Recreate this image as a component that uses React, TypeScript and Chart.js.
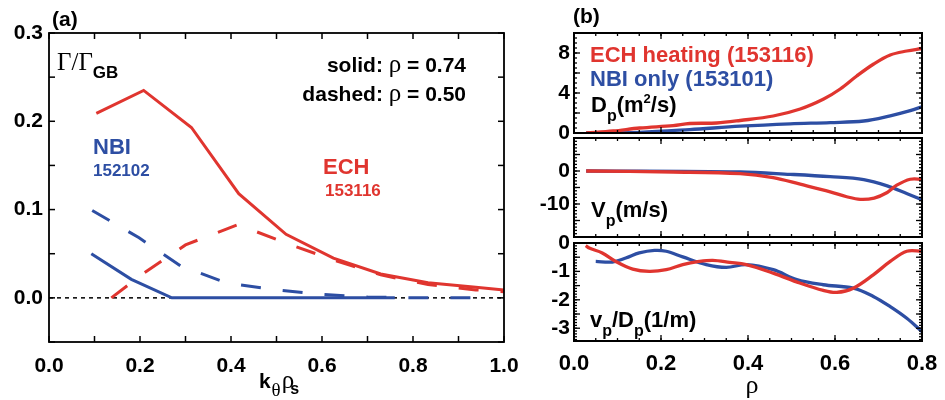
import React, { useEffect, useRef } from "react";
import { Chart, registerables } from "chart.js";
Chart.register(...registerables);

const RED = "#e0352f";
const BLUE = "#2d4ea3";
const SANS = '"Liberation Sans", Arial, sans-serif';
const SERIF = '"Liberation Serif", "Times New Roman", serif';

// ---------- Panel (a): Γ/Γ_GB vs kθρs ----------
const kRedSolid = [0.104, 0.208, 0.313, 0.417, 0.521, 0.625, 0.729, 0.833, 0.938, 1.0];
const gRedSolid = [0.209, 0.235, 0.193, 0.118, 0.072, 0.045, 0.027, 0.017, 0.012, 0.009];
const kRedDash = [0.137, 0.208, 0.3, 0.415, 0.521, 0.625, 0.729, 0.833, 0.938, 1.0];
const gRedDash = [0.0, 0.028, 0.06, 0.083, 0.062, 0.043, 0.026, 0.015, 0.009, 0.007];
const kBlueSolid = [0.093, 0.181, 0.27, 0.76];
const gBlueSolid = [0.05, 0.021, 0.0, 0.0];
const kBlueDash = [0.095, 0.198, 0.29, 0.39, 0.5, 0.6, 0.7, 0.8, 0.95];
const gBlueDash = [0.099, 0.068, 0.036, 0.017, 0.009, 0.004, 0.001, 0.0, 0.0];
const kZero = [0, 1];
const gZero = [0, 0];
const aXTicks = [0, 0.2, 0.4, 0.6, 0.8, 1.0];
const aYTicks = [0, 0.1, 0.2, 0.3];

// ---------- Panel (b): profiles vs ρ ----------
const rhoDpRed = [0.028, 0.09, 0.151, 0.228, 0.266, 0.328, 0.382, 0.458, 0.52, 0.574, 0.612, 0.65, 0.689, 0.727, 0.765, 0.8];
const dpRed = [0, 0.2, 0.5, 0.74, 0.95, 1.0, 1.25, 1.7, 2.4, 3.4, 4.4, 5.7, 6.9, 7.8, 8.2, 8.45];
const rhoDpBlue = [0.028, 0.151, 0.266, 0.382, 0.497, 0.589, 0.666, 0.727, 0.773, 0.8];
const dpBlue = [0, 0.07, 0.34, 0.68, 0.92, 1.04, 1.2, 1.72, 2.23, 2.63];

const rhoVRed = [0.028, 0.228, 0.382, 0.458, 0.52, 0.589, 0.627, 0.658, 0.69, 0.72, 0.742, 0.773, 0.8];
const vRed = [0, -0.3, -0.8, -2.0, -4.0, -6.3, -7.8, -8.6, -8.2, -6.5, -4.3, -2.5, -2.5];
const rhoVBlue = [0.028, 0.382, 0.497, 0.589, 0.666, 0.72, 0.766, 0.8];
const vBlue = [0, -0.3, -1.0, -1.7, -2.6, -4.5, -6.9, -8.7];

const rhoRRed = [0.027, 0.035, 0.065, 0.096, 0.135, 0.173, 0.212, 0.25, 0.288, 0.319, 0.358, 0.396, 0.458, 0.519, 0.573, 0.604, 0.642, 0.688, 0.727, 0.765, 0.8];
const rRed = [-0.09, -0.18, -0.35, -0.65, -0.92, -1.0, -0.94, -0.76, -0.65, -0.61, -0.68, -0.76, -1.06, -1.41, -1.67, -1.74, -1.59, -1.12, -0.65, -0.29, -0.29];
const rhoRBlue = [0.05, 0.088, 0.119, 0.15, 0.185, 0.212, 0.25, 0.304, 0.35, 0.396, 0.458, 0.512, 0.573, 0.642, 0.688, 0.727, 0.765, 0.8];
const rBlue = [-0.65, -0.67, -0.53, -0.35, -0.26, -0.29, -0.49, -0.76, -0.86, -0.76, -0.94, -1.29, -1.47, -1.59, -1.88, -2.24, -2.65, -3.12];

const bXTicks = [0, 0.2, 0.4, 0.6, 0.8];
const dpTicks = [0, 4, 8];
const vTicks = [-10, 0];
const rTicks = [-3, -2, -1, 0];

const pts = (xs: number[], ys: number[]) => xs.map((x, i) => ({ x, y: ys[i] }));

type Run = { t: string; font: string; dy?: number; dx?: number; color?: string };
type Label = { x: number; y: number; runs: Run[]; align?: "left" | "right" | "center"; color?: string };
type Frame = {
  xMajor?: number;
  xMinor?: number;
  yMajor?: number;
  yMinor?: number;
  majorLen: number;
  minorLen?: number;
  lineWidth: number;
  tickWidth: number;
};

function textPlugin(items: Label[]) {
  return {
    id: "texts",
    afterDraw(chart: any) {
      const ctx = chart.ctx as CanvasRenderingContext2D;
      ctx.save();
      ctx.textBaseline = "alphabetic";
      ctx.textAlign = "left";
      for (const it of items) {
        let w = 0;
        for (const r of it.runs) {
          ctx.font = r.font;
          w += ctx.measureText(r.t).width + (r.dx || 0);
        }
        let x = it.align === "right" ? it.x - w : it.align === "center" ? it.x - w / 2 : it.x;
        for (const r of it.runs) {
          ctx.font = r.font;
          ctx.fillStyle = r.color || it.color || "#000";
          x += r.dx || 0;
          ctx.fillText(r.t, x, it.y + (r.dy || 0));
          x += ctx.measureText(r.t).width;
        }
      }
      ctx.restore();
    },
  };
}

function framePlugin(o: Frame) {
  return {
    id: "frame",
    afterDraw(chart: any) {
      const ctx = chart.ctx as CanvasRenderingContext2D;
      const a = chart.chartArea;
      const xs = chart.scales.x;
      const ys = chart.scales.y;
      const tw = o.tickWidth;
      ctx.save();
      ctx.fillStyle = "#000";
      const each = (min: number, max: number, step: number | undefined, fn: (v: number) => void) => {
        if (!step) return;
        const s = Math.ceil(min / step - 1e-6);
        const e = Math.floor(max / step + 1e-6);
        for (let i = s; i <= e; i++) fn(i * step);
      };
      const xt = (step: number | undefined, len: number) =>
        each(xs.min, xs.max, step, (v) => {
          const p = xs.getPixelForValue(v);
          ctx.fillRect(p - tw / 2, a.bottom - len, tw, len);
          ctx.fillRect(p - tw / 2, a.top, tw, len);
        });
      const yt = (step: number | undefined, len: number) =>
        each(ys.min, ys.max, step, (v) => {
          const p = ys.getPixelForValue(v);
          ctx.fillRect(a.left, p - tw / 2, len, tw);
          ctx.fillRect(a.right - len, p - tw / 2, len, tw);
        });
      xt(o.xMajor, o.majorLen);
      xt(o.xMinor, o.minorLen || 0);
      yt(o.yMajor, o.majorLen);
      yt(o.yMinor, o.minorLen || 0);
      ctx.strokeStyle = "#000";
      ctx.setLineDash([]);
      ctx.lineWidth = o.lineWidth;
      ctx.strokeRect(a.left, a.top, a.right - a.left, a.bottom - a.top);
      ctx.restore();
    },
  };
}

function xScale(min: number, max: number, ticks: number[], show: boolean, height: number, size: number, pad: number) {
  return {
    type: "linear",
    min,
    max,
    grid: { display: false, drawTicks: false },
    border: { display: false },
    afterBuildTicks: (s: any) => {
      s.ticks = ticks.map((v) => ({ value: v }));
    },
    afterFit: (s: any) => {
      s.height = height;
      s.paddingLeft = 0;
      s.paddingRight = 0;
    },
    ticks: {
      display: show,
      autoSkip: false,
      maxRotation: 0,
      padding: pad,
      color: "#000",
      font: { family: SANS, size, weight: "bold" },
      callback: (v: any) => Number(v).toFixed(1),
    },
  };
}

function yScale(min: number, max: number, ticks: number[], width: number, size: number, pad: number, fmt: (v: number) => string) {
  return {
    type: "linear",
    min,
    max,
    grid: { display: false, drawTicks: false },
    border: { display: false },
    afterBuildTicks: (s: any) => {
      s.ticks = ticks.map((v) => ({ value: v }));
    },
    afterFit: (s: any) => {
      s.width = width;
      s.paddingTop = 0;
      s.paddingBottom = 0;
    },
    ticks: {
      autoSkip: false,
      padding: pad,
      color: "#000",
      font: { family: SANS, size, weight: "bold" },
      callback: (v: any) => fmt(Number(v)),
    },
  };
}

function line(data: any[], color: string, width: number, dash: number[] = [], tension = 0) {
  return {
    data,
    borderColor: color,
    backgroundColor: color,
    borderWidth: width,
    borderDash: dash,
    pointRadius: 0,
    tension,
    fill: false,
  };
}

function build(datasets: any[], padding: any, scales: any, frame: Frame, items: Label[]) {
  return {
    type: "line",
    data: { datasets },
    options: {
      responsive: false,
      devicePixelRatio: 1,
      animation: false,
      layout: { padding },
      scales,
      plugins: { legend: { display: false }, tooltip: { enabled: false } },
    },
    plugins: [framePlugin(frame), textPlugin(items)],
  };
}

const B = (s: number) => `bold ${s}px ${SANS}`;
const S = (s: number) => `${s}px ${SERIF}`;

function configA() {
  const items: Label[] = [
    { x: 52, y: 26, runs: [{ t: "(a)", font: B(21) }] },
    { x: 57, y: 70, runs: [{ t: "Γ/Γ", font: S(25) }, { t: "GB", font: B(17), dy: 8 }] },
    { x: 466, y: 72, align: "right", runs: [{ t: "solid: ", font: B(21) }, { t: "ρ", font: S(25) }, { t: " = 0.74", font: B(21) }] },
    { x: 466, y: 101, align: "right", runs: [{ t: "dashed: ", font: B(21) }, { t: "ρ", font: S(25) }, { t: " = 0.50", font: B(21) }] },
    { x: 93, y: 154, color: BLUE, runs: [{ t: "NBI", font: B(22) }] },
    { x: 93, y: 176, color: BLUE, runs: [{ t: "152102", font: B(17) }] },
    { x: 323, y: 174, color: RED, runs: [{ t: "ECH", font: B(22) }] },
    { x: 325, y: 196, color: RED, runs: [{ t: "153116", font: B(17) }] },
    {
      x: 279,
      y: 388,
      align: "center",
      runs: [
        { t: "k", font: B(21) },
        { t: "θ", font: S(19), dy: 8, dx: 1 },
        { t: "ρ", font: S(25), dx: 1 },
        { t: "s", font: B(16), dy: 6, dx: -4 },
      ],
    },
  ];
  return build(
    [
      line(pts(kRedSolid, gRedSolid), RED, 3),
      line(pts(kRedDash, gRedDash), RED, 3, [20, 22]),
      line(pts(kBlueSolid, gBlueSolid), BLUE, 3),
      line(pts(kBlueDash, gBlueDash), BLUE, 3, [20, 22]),
      line(pts(kZero, gZero), "#000", 1.5, [4, 4]),
    ],
    { left: 0, top: 33, right: 945 - 504, bottom: 0 },
    {
      x: xScale(0, 1, aXTicks, true, 58, 21, 12),
      y: yScale(-0.05, 0.3, aYTicks, 49, 21, 6, (v) => v.toFixed(1)),
    },
    { xMajor: 0.1, majorLen: 6, yMajor: 0.05, lineWidth: 1.8, tickWidth: 1.5 },
    items
  );
}

const L = 574;
const R = 922;
const YW = 38;
const bFrame = { xMajor: 0.2, xMinor: 0.05, majorLen: 6, minorLen: 3, lineWidth: 2, tickWidth: 1.3 };

function configB1() {
  const items: Label[] = [
    { x: 573, y: 23, runs: [{ t: "(b)", font: B(21) }] },
    { x: 590, y: 62, color: RED, runs: [{ t: "ECH heating (153116)", font: B(22) }] },
    { x: 590, y: 86, color: BLUE, runs: [{ t: "NBI only (153101)", font: B(22) }] },
    {
      x: 591,
      y: 112,
      runs: [
        { t: "D", font: B(22) },
        { t: "p", font: B(16), dy: 9 },
        { t: "(m", font: B(22) },
        { t: "2", font: B(13), dy: -9 },
        { t: "/s)", font: B(22) },
      ],
    },
  ];
  return build(
    [line(pts(rhoDpRed, dpRed), RED, 3.3, [], 0.35), line(pts(rhoDpBlue, dpBlue), BLUE, 3.3, [], 0.35)],
    { left: L - YW, top: 33, right: 945 - R, bottom: 400 - 133 },
    {
      x: xScale(0, 0.8, bXTicks, false, 0, 22, 10),
      y: yScale(0, 10, dpTicks, YW, 21, 4, (v) => String(v)),
    },
    { ...bFrame, yMajor: 2, yMinor: 0.5 },
    items
  );
}

function configB2() {
  const items: Label[] = [
    {
      x: 591,
      y: 217,
      runs: [
        { t: "V", font: B(22) },
        { t: "p", font: B(16), dy: 9 },
        { t: "(m/s)", font: B(22) },
      ],
    },
  ];
  return build(
    [line(pts(rhoVRed, vRed), RED, 3.3, [], 0.35), line(pts(rhoVBlue, vBlue), BLUE, 3.3, [], 0.35)],
    { left: L - YW, top: 138, right: 945 - R, bottom: 400 - 237 },
    {
      x: xScale(0, 0.8, bXTicks, false, 0, 22, 10),
      y: yScale(-20, 10, vTicks, YW, 21, 4, (v) => String(v)),
    },
    { ...bFrame, yMajor: 5, yMinor: 1 },
    items
  );
}

function configB3() {
  const items: Label[] = [
    {
      x: 590,
      y: 327,
      runs: [
        { t: "v", font: B(22) },
        { t: "p", font: B(16), dy: 9 },
        { t: "/D", font: B(22) },
        { t: "p", font: B(16), dy: 9 },
        { t: "(1/m)", font: B(22) },
      ],
    },
    { x: 752, y: 393, align: "center", runs: [{ t: "ρ", font: S(26) }] },
  ];
  return build(
    [line(pts(rhoRRed, rRed), RED, 3.3, [], 0.35), line(pts(rhoRBlue, rBlue), BLUE, 3.3, [], 0.35)],
    { left: L - YW, top: 243, right: 945 - R, bottom: 0 },
    {
      x: xScale(0, 0.8, bXTicks, true, 59, 22, 10),
      y: yScale(-3.45, 0, rTicks, YW, 21, 4, (v) => String(v)),
    },
    { ...bFrame, yMajor: 0.5, yMinor: 0.1 },
    items
  );
}

function ChartCanvas({ make }: { make: () => any }) {
  const ref = useRef<HTMLCanvasElement>(null);
  useEffect(() => {
    const c = new Chart(ref.current as HTMLCanvasElement, make());
    return () => c.destroy();
  }, [make]);
  return (
    <canvas
      ref={ref}
      width={945}
      height={400}
      style={{ position: "absolute", left: 0, top: 0, width: 945, height: 400 }}
    />
  );
}

export default function App() {
  return (
    <div style={{ position: "absolute", left: 0, top: 0, width: 945, height: 400, background: "#fff", overflow: "hidden" }}>
      <ChartCanvas make={configA} />
      <ChartCanvas make={configB1} />
      <ChartCanvas make={configB2} />
      <ChartCanvas make={configB3} />
    </div>
  );
}
